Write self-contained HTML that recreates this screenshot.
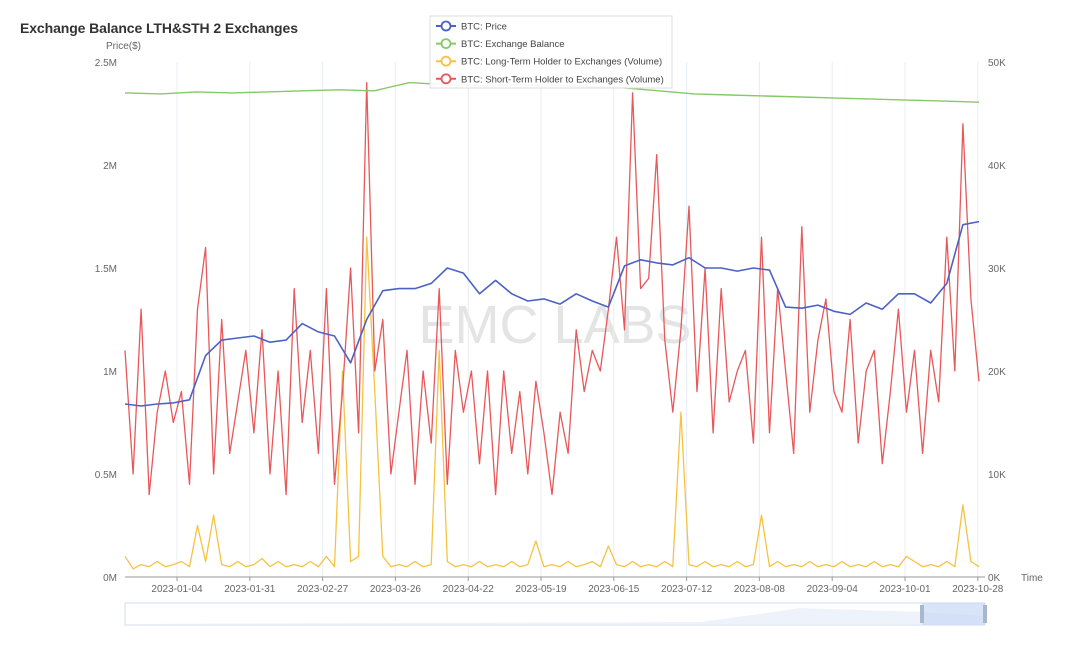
<!DOCTYPE html>
<html><head><meta charset="utf-8"><style>
body{margin:0;background:#fff;font-family:"Liberation Sans",sans-serif}
svg text{font-family:"Liberation Sans",sans-serif}
</style></head><body>
<svg id="c" width="1080" height="655" xmlns="http://www.w3.org/2000/svg">
<text x="20" y="33" font-size="14" font-weight="bold" fill="#333" textLength="278">Exchange Balance LTH&amp;STH 2 Exchanges</text>
<text x="106" y="49" font-size="10" fill="#666">Price($)</text>
<text x="1021" y="581" font-size="10" fill="#666">Time</text>
<text x="555" y="343" font-size="54" fill="#e4e4e4" text-anchor="middle">EMC LABS</text>
<g id="grid"></g><g id="axes"></g><g id="series"></g>
<g>
<rect x="430" y="16" width="242" height="72" fill="#fff" fill-opacity="0.9" stroke="#ddd"/>
<g id="legend"></g></g>
<g>
<rect x="125" y="603" width="860" height="22" fill="#fff" stroke="#d2dbee"/>
<path d="M125 624 L700 622 L760 614 L800 608 L860 610 L922 612 L985 616 L985 624 Z" fill="#eef2fb"/>
<rect x="922" y="603" width="63" height="22" fill="#c9d8f5" fill-opacity="0.7"/>
<rect x="920" y="605" width="4" height="18" fill="#a7b7cc"/>
<rect x="983" y="605" width="4" height="18" fill="#a7b7cc"/>
</g>
</svg>
<script>
const tickDates=["2023-01-04","2023-01-31","2023-02-27","2023-03-26","2023-04-22","2023-05-19","2023-06-15","2023-07-12","2023-08-08","2023-09-04","2023-10-01","2023-10-28"];
const leftTicks=["0M","0.5M","1M","1.5M","2M","2.5M"];
const rightTicks=["0K","10K","20K","30K","40K","50K"];
const balance=[2.35,2.345,2.355,2.35,2.355,2.36,2.365,2.36,2.40,2.39,2.385,2.39,2.385,2.38,2.375,2.36,2.345,2.34,2.335,2.33,2.325,2.32,2.315,2.31,2.305];
const price=[16.8,16.6,16.8,16.9,17.2,21.5,23,23.2,23.4,22.8,23,24.6,23.8,23.4,20.8,25,27.8,28,28,28.5,30,29.5,27.5,28.8,27.5,26.8,27,26.5,27.5,26.8,26.2,30.2,30.8,30.5,30.3,31,30,30,29.7,30,29.8,26.2,26.1,26.4,25.8,25.5,26.6,26,27.5,27.5,26.6,28.5,34.2,34.5];
const sth=[22,10,26,8,16,20,15,18,9,26,32,10,25,12,17,22,14,24,10,20,8,28,15,22,12,28,9,18,30,14,48,20,25,10,16,22,9,20,13,28,9,22,16,20,11,20,8,20,12,18,10,19,14,8,16,12,24,18,22,20,26,33,24,47,28,29,41,23,16,24,36,18,30,14,28,17,20,22,13,33,14,28,20,12,34,16,23,27,18,16,25,13,20,22,11,18,26,16,22,12,22,17,33,20,44,27,19];
const lth=[2,0.8,1.2,1,1.5,1,1.2,1.5,1,5,1.5,6,1.2,1,1.5,1,1.2,1.8,1,1.5,1,1.2,1,1.5,1,2,1,20,1.5,2,33,18,2,1,1.2,1,1.5,1,1.2,22,1.5,1,1.2,1,1.5,1,1.2,1,1.5,1,1.2,3.5,1,1.2,1,1.5,1,1.2,1.5,1,3,1.2,1,1.5,1,1.2,1,1.5,1,16,1.2,1,1.5,1,1.2,1,1.5,1,1.2,6,1,1.5,1,1.2,1,1.5,1,1.2,1,1.5,1,1.2,1,1.5,1,1.2,1,2,1.5,1,1.2,1,1.5,1,7,1.5,1];
const X0=125,X1=979,Y0=577,Y1=62;
const xs=(i,n)=>X0+(X1-X0)*i/(n-1);
const yL=v=>Y0-(Y0-Y1)*v/2.5;
const yR=v=>Y0-(Y0-Y1)*v/50;
const NS="http://www.w3.org/2000/svg";
function mk(t,a,p){const e=document.createElementNS(NS,t);for(const k in a)e.setAttribute(k,a[k]);p.appendChild(e);return e;}
const grid=document.getElementById('grid'),axes=document.getElementById('axes'),ser=document.getElementById('series');
tickDates.forEach((d,k)=>{const x=177+72.8*k;
 const l=mk('line',{x1:x,x2:x,y1:Y1,y2:Y0,stroke:'#e8ecf6'},grid);
 
 
 const t=mk('text',{x:x,y:592,'font-size':10,fill:'#666','text-anchor':'middle'},axes);t.textContent=d;
 
 
 mk('line',{x1:x,x2:x,y1:Y0,y2:Y0+4,stroke:'#999'},axes);
});
mk('line',{x1:X0,x2:985,y1:Y0,y2:Y0,stroke:'#999'},axes);
leftTicks.forEach((s,k)=>{const t=mk('text',{x:117,y:yL(k*0.5)+4,'font-size':10,fill:'#666','text-anchor':'end'},axes);t.textContent=s;
 
 });
rightTicks.forEach((s,k)=>{const t=mk('text',{x:988,y:yR(k*10)+4,'font-size':10,fill:'#666'},axes);t.textContent=s;
 
 });
function line(arr,yf,col,name,w){const n=arr.length;const d=arr.map((v,i)=>(i?'L':'M')+xs(i,n).toFixed(1)+' '+yf(v).toFixed(1)).join(' ');
 const p=mk('path',{d:d,fill:'none',stroke:col,'stroke-width':w,'stroke-linejoin':'round'},ser);
 
 }
line(lth,yR,'#f5c342','lth-line',1.3);
line(sth,yR,'#e8585a','sth-line',1.3);
line(balance,yL,'#86c96a','exchange-balance-line',1.4);
line(price,yR,'#4a62c6','price-line',1.6);
const lg=document.getElementById('legend');
[["BTC: Price","#4a62c6"],["BTC: Exchange Balance","#86c96a"],["BTC: Long-Term Holder to Exchanges (Volume)","#f5c342"],["BTC: Short-Term Holder to Exchanges (Volume)","#e8585a"]].forEach((it,k)=>{
 const y=26+17.6*k;const g=mk('g',{},lg);
 
 
 mk('line',{x1:436,x2:456,y1:y,y2:y,stroke:it[1],'stroke-width':2},g);
 mk('circle',{cx:446,cy:y,r:4.5,fill:'#fff',stroke:it[1],'stroke-width':1.8},g);
 const t=mk('text',{x:461,y:y+3.5,'font-size':9.5,fill:'#444'},g);t.textContent=it[0];});
</script>
</body></html>
